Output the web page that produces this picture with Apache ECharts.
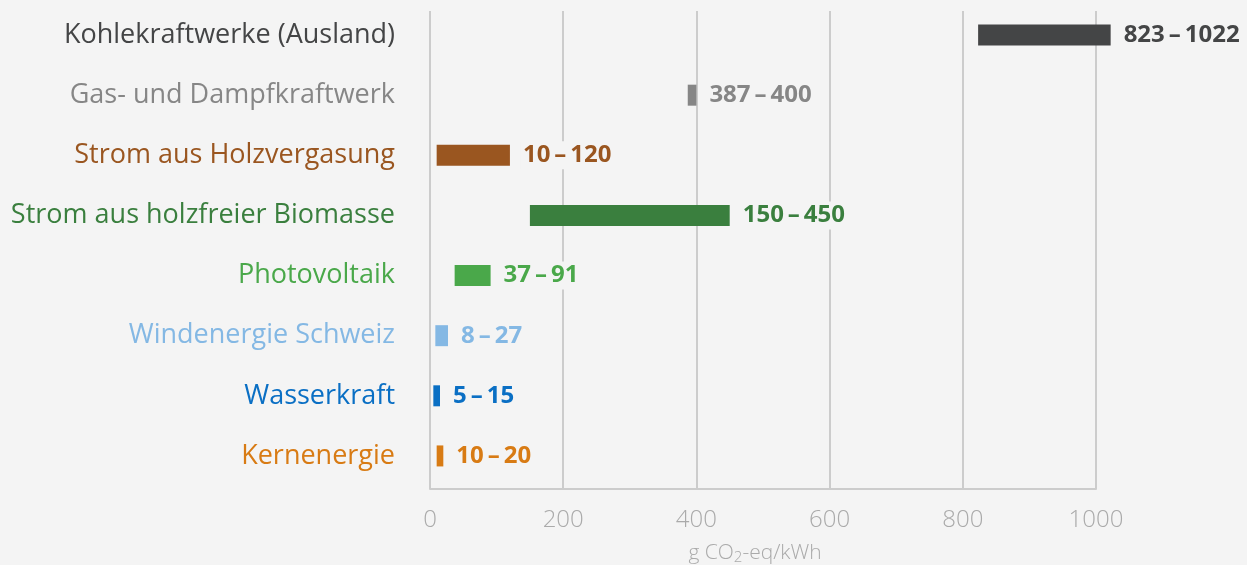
<!DOCTYPE html>
<html>
<head>
    <meta charset="UTF-8">
    <title>CO2-Emissionen Strom</title>
    <style>
        html, body { margin: 0; padding: 0; background: #f4f4f4; }
        #chart { width: 1247px; height: 565px; }
    </style>
</head>
<body>
<div id="chart"></div>
<script type="text/javascript" src="https://cdn.jsdelivr.net/npm/echarts@6/dist/echarts.min.js"></script>
<script type="text/javascript">
    // Daten: Bandbreite g CO2-eq/kWh
    const categories = ['Kohlekraftwerke (Ausland)', 'Gas- und Dampfkraftwerk', 'Strom aus Holzvergasung',
        'Strom aus holzfreier Biomasse', 'Photovoltaik', 'Windenergie Schweiz', 'Wasserkraft', 'Kernenergie'];
    const lows = [823, 387, 10, 150, 37, 8, 5, 10];
    const highs = [1022, 400, 120, 450, 91, 27, 15, 20];
    const colors = ['#444546', '#868686', '#9a5620', '#3a7f3e', '#4aa84a', '#84b8e4', '#0a6fc4', '#d87b14'];
    const xTicks = [0, 200, 400, 600, 800, 1000];

    let chart = echarts.init(document.getElementById('chart'));

    let option = {
        backgroundColor: '#f4f4f4',
        animation: false,
        textStyle: { fontFamily: 'Open Sans' },
        // grid 0: Achsen und Gitter, grid 1: Balken und Kategorien
        grid: [
            { left: 430, right: 151, top: 11, bottom: 76, outerBoundsMode: 'none' },
            { left: 430, right: 151, top: 5, bottom: 79, outerBoundsMode: 'none' }
        ],
        xAxis: [
            {
                gridIndex: 0,
                type: 'value',
                min: xTicks[0],
                max: xTicks[xTicks.length - 1],
                interval: 200,
                axisLine: { show: true, lineStyle: { color: '#cccccc', width: 2 } },
                axisTick: { show: false },
                splitLine: { show: true, lineStyle: { color: '#cccccc', width: 2 } },
                axisLabel: {
                    color: '#aaaaaa', fontSize: 24, fontWeight: 300, margin: 19,
                    formatter: function (v) { return String(v); }
                },
                name: '{n|g CO}{s|2}{n|-eq/kWh}',
                nameLocation: 'middle',
                nameGap: 53,
                nameTextStyle: {
                    padding: [0, 16, 0, 0],
                    rich: {
                        n: { color: '#aaaaaa', fontSize: 21, fontWeight: 300 },
                        s: { color: '#aaaaaa', fontSize: 15, fontWeight: 300, padding: [8, 0, 0, 0] }
                    }
                }
            },
            {
                gridIndex: 1,
                type: 'value',
                min: xTicks[0],
                max: xTicks[xTicks.length - 1],
                show: false
            }
        ],
        yAxis: [
            {
                gridIndex: 0,
                type: 'value',
                show: false
            },
            {
                gridIndex: 1,
                type: 'category',
                inverse: true,
                data: categories,
                axisLine: { show: false },
                axisTick: { show: false },
                splitLine: { show: false },
                axisLabel: {
                    fontSize: 27,
                    margin: 35,
                    color: function (value, index) { return colors[index]; }
                }
            }
        ],
        series: [
            {
                type: 'bar',
                xAxisIndex: 1,
                yAxisIndex: 1,
                stack: 'range',
                data: lows,
                barWidth: 21,
                clip: false,
                itemStyle: { color: 'transparent' },
                silent: true
            },
            {
                type: 'bar',
                xAxisIndex: 1,
                yAxisIndex: 1,
                stack: 'range',
                barWidth: 21,
                clip: false,
                data: highs.map(function (h, i) {
                    return {
                        value: h - lows[i],
                        itemStyle: { color: colors[i] },
                        label: { color: colors[i] }
                    };
                }),
                label: {
                    show: true,
                    position: 'right',
                    distance: 11,
                    fontSize: 24,
                    fontWeight: 'bold',
                    backgroundColor: '#f4f4f4',
                    padding: [2, 2],
                    formatter: function (p) {
                        return lows[p.dataIndex] + '\u2009\u2013\u2009' + highs[p.dataIndex];
                    }
                }
            }
        ]
    };
    chart.setOption(option);
</script>
</body>
</html>
